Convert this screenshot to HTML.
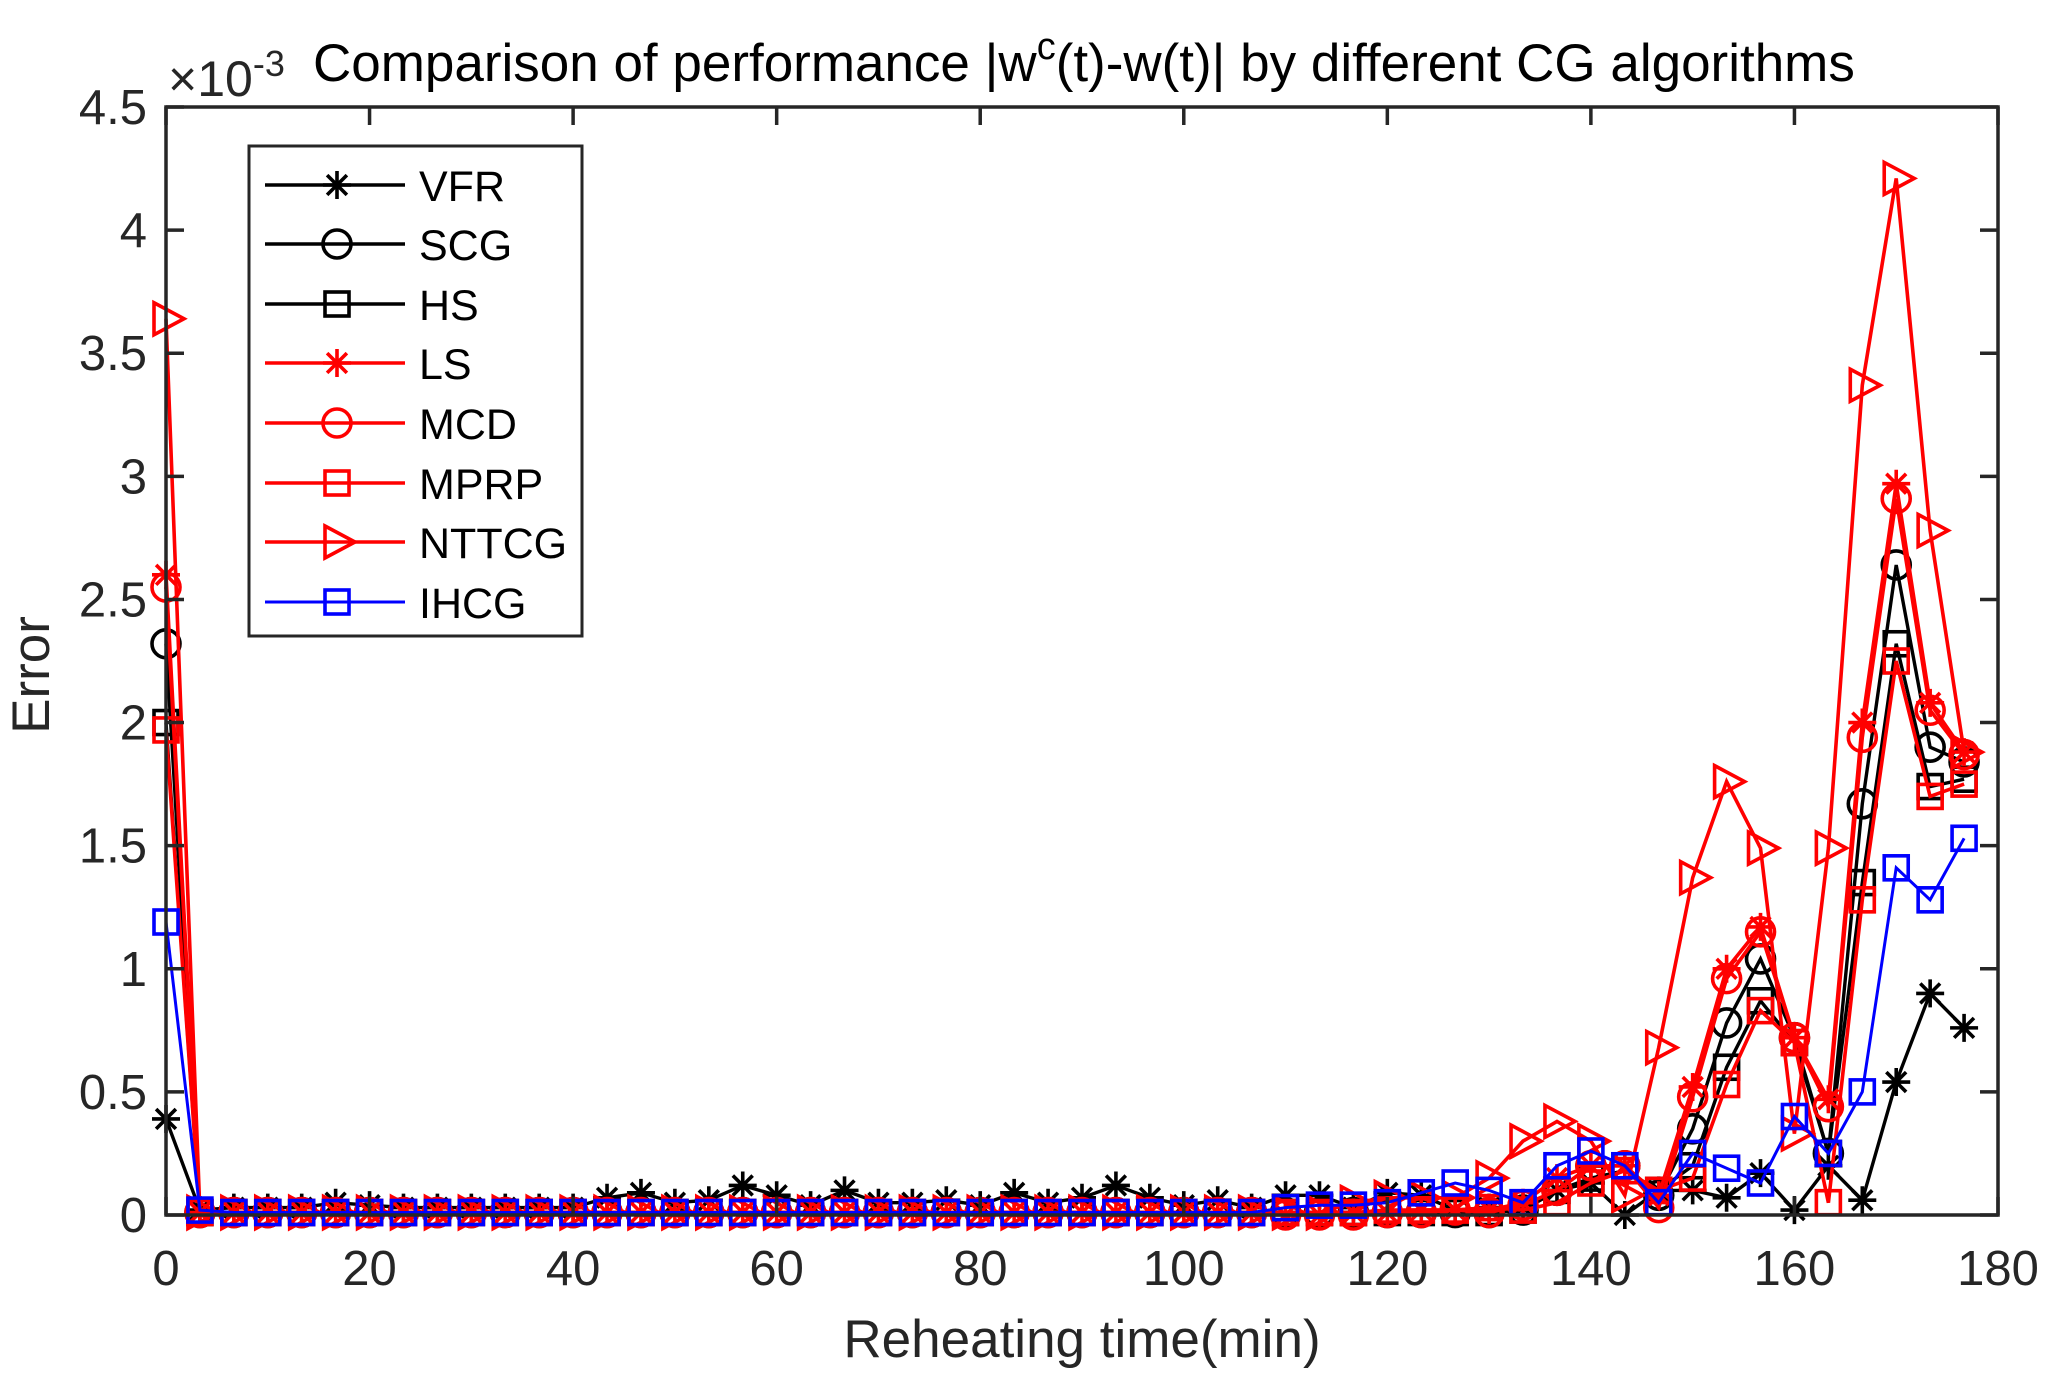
<!DOCTYPE html>
<html><head><meta charset="utf-8"><style>
html,body{margin:0;padding:0;background:#fff;}
svg{display:block;font-family:"Liberation Sans",Arial,sans-serif;}
</style></head><body>
<svg id="s" width="2048" height="1395" viewBox="0 0 2048 1395" xmlns="http://www.w3.org/2000/svg">
<rect width="2048" height="1395" fill="#fff"/>
<g id="plot"></g>
<rect x="166" y="107" width="1832" height="1108" fill="none" stroke="#262626" stroke-width="3.5"/>
<g id="ticks" stroke="#262626" stroke-width="3.5"></g>
<g font-size="49" fill="#262626" id="lab"></g>
<text x="168" y="96" font-size="50" fill="#262626">×10<tspan dy="-20" font-size="36">-3</tspan></text>
<text x="313" y="81" font-size="53" fill="#000">Comparison of performance |w<tspan dy="-22" font-size="38">c</tspan><tspan dy="22">(t)-w(t)| by different CG algorithms</tspan></text>
<text x="1082" y="1357" font-size="53" fill="#262626" text-anchor="middle">Reheating time(min)</text>
<text transform="translate(49,675) rotate(-90)" font-size="53" fill="#262626" text-anchor="middle">Error</text>
<g id="leg"></g>
</svg>
<script>
var X0=166,X1=1998,Y0=1215,Y1=107;
function px(t){return X0+(X1-X0)*t/180;}
function py(v){return Y0-(Y0-Y1)*v/4.5;}
var ns="http://www.w3.org/2000/svg";
function el(p,n,a){var e=document.createElementNS(ns,n);for(var k in a)e.setAttribute(k,a[k]);p.appendChild(e);return e;}
var tk=document.getElementById('ticks'),lab=document.getElementById('lab');
for(var i=0;i<=9;i++){var t=i*20,x=px(t);
 el(tk,'line',{x1:x,y1:Y0,x2:x,y2:Y0-18});el(tk,'line',{x1:x,y1:Y1,x2:x,y2:Y1+18});
 var tx=el(lab,'text',{x:x,y:1285,'text-anchor':'middle'});tx.textContent=t;}
for(var i=0;i<=9;i++){var v=i*0.5,y=py(v);
 el(tk,'line',{x1:X0,y1:y,x2:X0+18,y2:y});el(tk,'line',{x1:X1,y1:y,x2:X1-18,y2:y});
 var tx=el(lab,'text',{x:147,y:y+17,'text-anchor':'end'});tx.textContent=(v==0?'0':String(v));}
function fill(first,late,base,bumps){var a=[first];for(var i=1;i<54;i++)a.push(base);
 for(var k in bumps)a[+k]=bumps[k];
 for(var j=0;j<late.length;j++)a[54-late.length+j]=late[j];return a;}
var vfr=fill(0.39,[0.03,0.1,0.13,0.0,0.1,0.1,0.07,0.17,0.02,0.2,0.06,0.54,0.9,0.76],0.03,
 {1:0.02,5:0.05,6:0.04,13:0.07,14:0.09,15:0.05,16:0.06,17:0.12,18:0.08,19:0.04,20:0.1,21:0.05,22:0.05,23:0.06,24:0.04,25:0.09,26:0.05,27:0.07,28:0.12,29:0.07,30:0.04,31:0.06,32:0.03,33:0.08,34:0.08,35:0.03,36:0.09,37:0.08,38:0.02,39:0.03});
var scg=fill(2.32,[0.02,0.1,0.2,0.2,0.08,0.35,0.78,1.04,0.72,0.25,1.67,2.64,1.9,1.84],0.01,{});
var hs=fill(2.0,[0.02,0.1,0.15,0.18,0.1,0.2,0.6,0.87,0.7,0.25,1.35,2.32,1.74,1.77],0.01,{});
var ls=fill(2.6,[0.05,0.15,0.2,0.2,0.08,0.52,1.0,1.17,0.72,0.47,2.0,2.97,2.08,1.88],0.01,{33:0.0,34:0.0,37:0.02,38:0.02,39:0.02});
var mcd=fill(2.55,[0.04,0.1,0.2,0.2,0.03,0.48,0.96,1.15,0.72,0.44,1.94,2.91,2.05,1.87],0.01,{33:0.0,34:0.0,35:0.0,38:0.02,39:0.01});
var mprp=fill(1.97,[0.02,0.05,0.13,0.18,0.1,0.15,0.53,0.83,0.7,0.05,1.28,2.25,1.7,1.75],0.01,{36:0.02,37:0.02,38:0.02,39:0.03});
var ntt=fill(3.64,[0.3,0.38,0.3,0.08,0.68,1.37,1.76,1.49,0.33,1.49,3.37,4.21,2.78,1.88],0.01,{35:0.05,36:0.07,37:0.07,38:0.07,39:0.15});
var ihcg=fill(1.19,[0.05,0.2,0.26,0.2,0.05,0.25,0.19,0.13,0.4,0.25,0.5,1.41,1.28,1.53],0.01,{1:0.02,33:0.03,34:0.04,35:0.04,36:0.05,37:0.09,38:0.13,39:0.1});
var R='#ff0000',K='#000',B='#0000ff';
var series=[['VFR',vfr,K,'star',3.4],['SCG',scg,K,'circ',3.4],['HS',hs,K,'sq',3.4],['LS',ls,R,'star',3.6],['MCD',mcd,R,'circ',3.6],['MPRP',mprp,R,'sq',3.6],['NTTCG',ntt,R,'tri',3.6],['IHCG',ihcg,B,'sq',3]];
function marker(g,type,x,y,c){var a={fill:'none',stroke:c,'stroke-width':3.6};
 if(type=='circ'){a.cx=x;a.cy=y;a.r=14;el(g,'circle',a);}
 else if(type=='sq'){a.x=x-12;a.y=y-12;a.width=24;a.height=24;el(g,'rect',a);}
 else if(type=='tri'){a.points=(x-12)+','+(y-16)+' '+(x+18)+','+y+' '+(x-12)+','+(y+16);el(g,'polygon',a);}
 else{var d='';for(var k=0;k<4;k++){var an=k*Math.PI/4;var dx=14*Math.cos(an),dy=14*Math.sin(an);d+='M'+(x-dx)+' '+(y-dy)+'L'+(x+dx)+' '+(y+dy);}
  el(g,'path',{d:d,stroke:c,'stroke-width':3.6,fill:'none'});}}
var plot=document.getElementById('plot');
series.forEach(function(s){var g=el(plot,'g',{});var pts=[];
 for(var i=0;i<54;i++)pts.push(px(i*10/3).toFixed(1)+','+py(s[1][i]).toFixed(1));
 el(g,'polyline',{points:pts.join(' '),fill:'none',stroke:s[2],'stroke-width':s[4]});
 for(var i=0;i<54;i++)marker(g,s[3],px(i*10/3),py(s[1][i]),s[2]);});
var leg=document.getElementById('leg');
el(leg,'rect',{x:249,y:146,width:333,height:490,fill:'#fff',stroke:'#262626','stroke-width':3});
var ly=[185,244,304,363,423,483,542,602];
series.forEach(function(s,i){var y=ly[i];
 el(leg,'line',{x1:265,y1:y,x2:405,y2:y,stroke:s[2],'stroke-width':s[4]});
 marker(leg,s[3],337,y,s[2]);
 var t=el(leg,'text',{x:419,y:y+16,'font-size':43,fill:'#000'});t.textContent=s[0];});
</script>
</body></html>
